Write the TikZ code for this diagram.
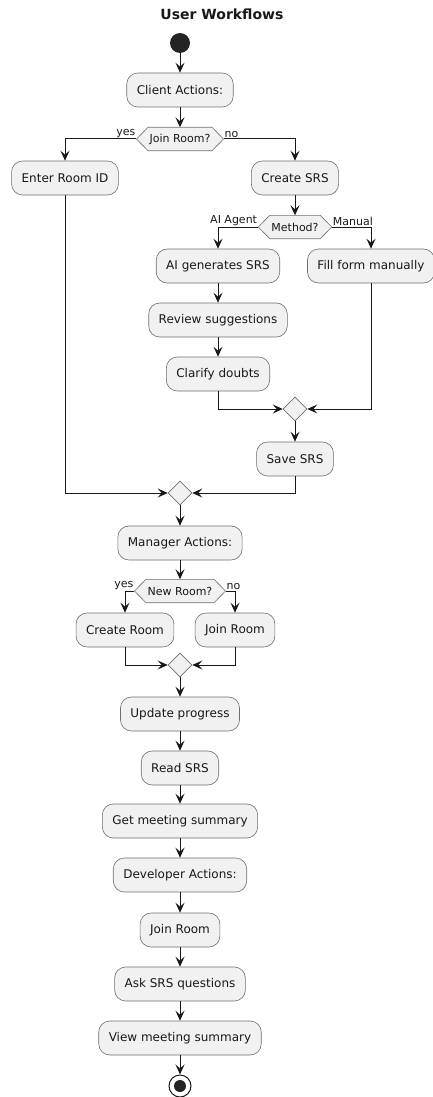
\documentclass[tikz,border=0pt]{standalone}
\usepackage{fontspec}
\setmainfont{DejaVu Sans}
\usetikzlibrary{arrows.meta,calc,shapes.geometric,backgrounds}
\definecolor{boxfill}{HTML}{F1F1F1}
\definecolor{ink}{HTML}{181818}
\definecolor{rim}{HTML}{6E6E6E}
\tikzset{
  actbox/.style={draw=rim, line width=0.6pt, fill=boxfill, rounded corners=11pt,
    minimum height=34pt, inner xsep=10pt, font=\fontsize{12}{14}\selectfont, text=ink},
  hexbox/.style={minimum height=23pt, inner xsep=1.5pt, inner ysep=0pt, font=\fontsize{11}{13}\selectfont, text=ink},
  hexshape/.style={draw=rim, line width=0.6pt, fill=boxfill},
  mergebox/.style={diamond, draw=rim, line width=0.6pt, fill=boxfill, minimum width=24pt, minimum height=24pt, inner sep=0pt},
  arr/.style={draw=ink, line width=1pt, -{Stealth[length=10pt,width=9pt,inset=4pt]}},
  lbl/.style={font=\fontsize{11}{13}\selectfont, text=ink, inner sep=1pt},
}
\begin{document}
\begin{tikzpicture}[x=1pt,y=-1pt]
\useasboundingbox (0,0) rectangle (433,1097);
\node[font=\fontsize{14}{17}\selectfont\bfseries, text=ink] (title) at (222,14) {User Workflows};
\node[circle, fill=ink!95, minimum size=20pt, inner sep=0pt] (start) at (180,43) {};
\node[actbox] (client) at (180,90) {Client Actions:};
\node[hexbox] (j) at (180,139) {Join Room?};
\coordinate (jL) at ($(j.west)+(-11.5,0)$);
\coordinate (jR) at ($(j.east)+(11.5,0)$);
\node[actbox] (enter) at (65,178) {Enter Room ID};
\node[actbox] (create) at (295,178) {Create SRS};
\node[hexbox] (m) at (295,227) {Method?};
\coordinate (mL) at ($(m.west)+(-11.5,0)$);
\coordinate (mR) at ($(m.east)+(11.5,0)$);
\node[actbox] (ai) at (218,266) {AI generates SRS};
\node[actbox] (fill) at (371,266) {Fill form manually};
\node[actbox] (review) at (218,320) {Review suggestions};
\node[actbox] (clarify) at (218,374) {Clarify doubts};
\node[mergebox] (d1) at (295,409) {};
\node[actbox] (save) at (295,459) {Save SRS};
\node[mergebox] (d2) at (180,493) {};
\node[actbox] (manager) at (180,543) {Manager Actions:};
\node[hexbox] (n) at (180,591) {New Room?};
\coordinate (nL) at ($(n.west)+(-11.5,0)$);
\coordinate (nR) at ($(n.east)+(11.5,0)$);
\node[actbox] (croom) at (125,630) {Create Room};
\node[actbox] (jroom) at (235,630) {Join Room};
\node[mergebox] (d3) at (180,665) {};
\node[actbox] (update) at (180,714) {Update progress};
\node[actbox] (read) at (180,768) {Read SRS};
\node[actbox] (getsum) at (180,821) {Get meeting summary};
\node[actbox] (dev) at (180,875) {Developer Actions:};
\node[actbox] (join2) at (180,930) {Join Room};
\node[actbox] (ask) at (180,984) {Ask SRS questions};
\node[actbox] (view) at (180,1038) {View meeting summary};
\node[circle, draw=ink, line width=1pt, fill=white, minimum size=22pt, inner sep=0pt] (end) at (180,1086) {};
\node[circle, fill=ink!95, minimum size=12pt, inner sep=0pt] (endin) at (end) {};
\begin{scope}[on background layer]
\foreach \h/\l/\r in {j/jL/jR, m/mL/mR, n/nL/nR}{
  \draw[hexshape] (\h.north west) -- (\h.north east) -- (\r) -- (\h.south east) -- (\h.south west) -- (\l) -- cycle;
}
\end{scope}
% labels
\node[lbl, anchor=south east] (yes1) at (jL) {yes};
\node[lbl, anchor=south west] (no1) at (jR) {no};
\node[lbl, anchor=south east] (aiag) at (mL) {AI Agent};
\node[lbl, anchor=south west] (man) at (mR) {Manual};
\node[lbl, anchor=south east] (yes2) at (nL) {yes};
\node[lbl, anchor=south west] (no2) at (nR) {no};
% connectors
\draw[arr] (start) -- (client);
\draw[arr] (client) -- (j.north);
\draw[arr] (jL) -| (enter.north);
\draw[arr] (jR) -| (create.north);
\draw[arr] (create) -- (m.north);
\draw[arr] (mL) -| (ai.north);
\draw[arr] (mR) -| (fill.north);
\draw[arr] (ai) -- (review);
\draw[arr] (review) -- (clarify);
\draw[arr] (clarify.south) |- (d1.west);
\draw[arr] (fill.south) |- (d1.east);
\draw[arr] (d1) -- (save);
\draw[arr] (enter.south) |- (d2.west);
\draw[arr] (save.south) |- (d2.east);
\draw[arr] (d2) -- (manager);
\draw[arr] (manager) -- (n.north);
\draw[arr] (nL) -| (croom.north);
\draw[arr] (nR) -| (jroom.north);
\draw[arr] (croom.south) |- (d3.west);
\draw[arr] (jroom.south) |- (d3.east);
\draw[arr] (d3) -- (update);
\draw[arr] (update) -- (read);
\draw[arr] (read) -- (getsum);
\draw[arr] (getsum) -- (dev);
\draw[arr] (dev) -- (join2);
\draw[arr] (join2) -- (ask);
\draw[arr] (ask) -- (view);
\draw[arr] (view) -- (end);
\end{tikzpicture}
\end{document}
